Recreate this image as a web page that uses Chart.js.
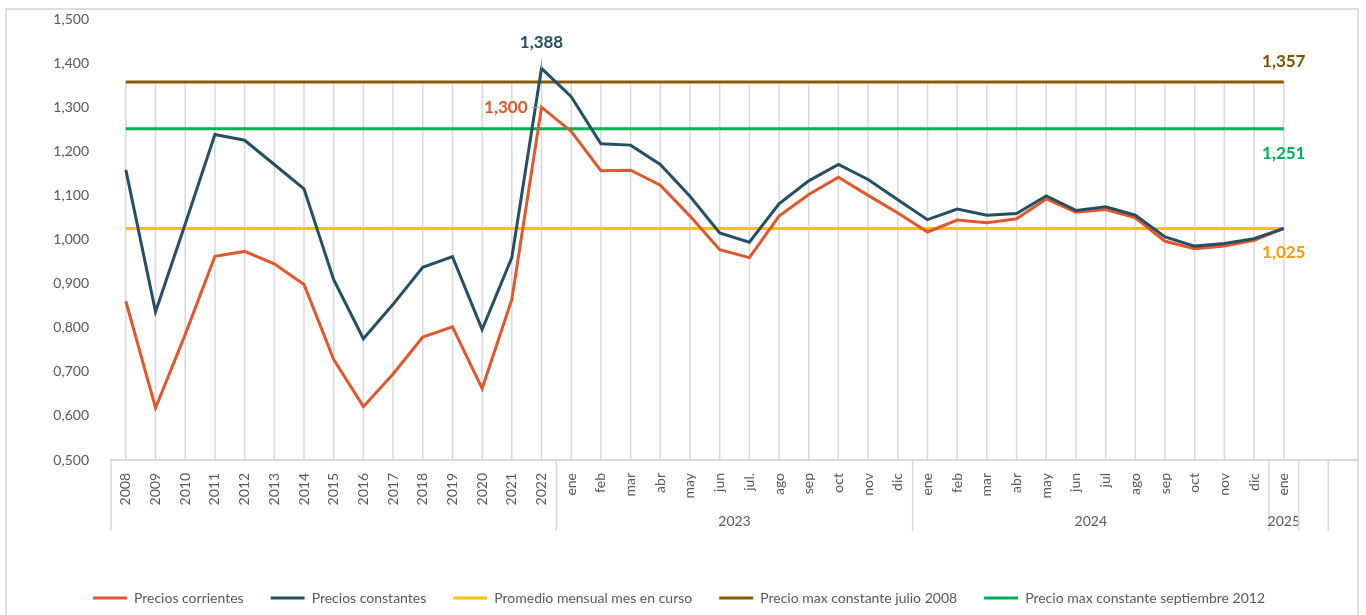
<!DOCTYPE html>
<html lang="es">
<head>
<meta charset="utf-8">
<title>Precios</title>
<script src="https://cdn.jsdelivr.net/npm/chart.js@4.4.1/dist/chart.umd.min.js"></script>
<style>
  html, body { margin: 0; padding: 0; background: #fff; overflow: hidden; }
  body { width: 1366px; height: 615px; position: relative; }
  #marco { position: absolute; left: 5px; top: 8px; width: 1350px; height: 700px; border: 2px solid #dedede; }
  #caja { position: absolute; left: 0; top: 0; width: 1366px; height: 615px; }
</style>
</head>
<body>
<div id="marco"></div>
<div id="caja"><canvas id="grafico"></canvas></div>
<script>
// categorias: años y luego meses (las dos últimas quedan vacías)
const categorias = [
  '2008', '2009', '2010', '2011', '2012', '2013', '2014', '2015', '2016', '2017', '2018', '2019', '2020', '2021', '2022',
  'ene', 'feb', 'mar', 'abr', 'may', 'jun', 'jul.', 'ago', 'sep', 'oct', 'nov', 'dic',
  'ene', 'feb', 'mar', 'abr', 'may', 'jun', 'jul', 'ago', 'sep', 'oct', 'nov', 'dic',
  'ene', '', ''
];
const grupos = ['', '2023', '2024', '2025', '', ''];
const categoriasPorGrupo = [15, 12, 12, 1, 1, 1];

const corrientes = [
  0.860, 0.618, 0.785, 0.962, 0.973, 0.945, 0.898, 0.728, 0.621, 0.695, 0.779, 0.802, 0.662, 0.864, 1.300,
  1.245, 1.156, 1.157, 1.123, 1.053, 0.977, 0.959, 1.053, 1.102, 1.141, 1.100, 1.060,
  1.017, 1.044, 1.038, 1.047, 1.092, 1.062, 1.068, 1.049, 0.996, 0.979, 0.985, 0.998,
  1.025
];
const constantes = [
  1.158, 0.836, 1.035, 1.238, 1.225, 1.170, 1.115, 0.909, 0.775, 0.853, 0.937, 0.961, 0.796, 0.959, 1.388,
  1.324, 1.217, 1.214, 1.170, 1.098, 1.015, 0.994, 1.081, 1.133, 1.170, 1.136, 1.090,
  1.045, 1.069, 1.055, 1.059, 1.099, 1.066, 1.074, 1.055, 1.006, 0.985, 0.991, 1.002,
  1.025
];
const promedioMes = [
  1.025, 1.025, 1.025, 1.025, 1.025, 1.025, 1.025, 1.025, 1.025, 1.025, 1.025, 1.025, 1.025, 1.025, 1.025,
  1.025, 1.025, 1.025, 1.025, 1.025, 1.025, 1.025, 1.025, 1.025, 1.025, 1.025, 1.025,
  1.025, 1.025, 1.025, 1.025, 1.025, 1.025, 1.025, 1.025, 1.025, 1.025, 1.025, 1.025,
  1.025
];
const maxJulio2008 = [
  1.357, 1.357, 1.357, 1.357, 1.357, 1.357, 1.357, 1.357, 1.357, 1.357, 1.357, 1.357, 1.357, 1.357, 1.357,
  1.357, 1.357, 1.357, 1.357, 1.357, 1.357, 1.357, 1.357, 1.357, 1.357, 1.357, 1.357,
  1.357, 1.357, 1.357, 1.357, 1.357, 1.357, 1.357, 1.357, 1.357, 1.357, 1.357, 1.357,
  1.357
];
const maxSept2012 = [
  1.251, 1.251, 1.251, 1.251, 1.251, 1.251, 1.251, 1.251, 1.251, 1.251, 1.251, 1.251, 1.251, 1.251, 1.251,
  1.251, 1.251, 1.251, 1.251, 1.251, 1.251, 1.251, 1.251, 1.251, 1.251, 1.251, 1.251,
  1.251, 1.251, 1.251, 1.251, 1.251, 1.251, 1.251, 1.251, 1.251, 1.251, 1.251, 1.251,
  1.251
];
const yMin = 0.5;
const yMax = 1.5;
const yPaso = 0.1;

const fmt = v => (Math.round(v * 1000) / 1000).toFixed(3).replace('.', ',');

Chart.defaults.font.family = 'Lato';
Chart.defaults.color = '#595959';

// lineas verticales desde el valor mas alto hasta el eje
const lineasGuia = {
  id: 'lineasGuia',
  beforeDatasetsDraw(chart) {
    const { ctx, scales: { x, y } } = chart;
    ctx.save();
    ctx.strokeStyle = '#d9d9d9';
    ctx.lineWidth = 1.5;
    for (let i = 0; i < corrientes.length; i++) {
      const tope = Math.max(corrientes[i], constantes[i], promedioMes[i], maxJulio2008[i], maxSept2012[i]);
      const px = x.getPixelForValue(i);
      ctx.beginPath();
      ctx.moveTo(px, y.getPixelForValue(tope));
      ctx.lineTo(px, y.bottom);
      ctx.stroke();
    }
    ctx.restore();
  }
};

// etiquetas de valores destacados
const etiquetas = {
  id: 'etiquetas',
  afterDatasetsDraw(chart) {
    const { ctx, scales: { x, y } } = chart;
    const iPico = 14;
    const iUlt = corrientes.length - 1;
    ctx.save();
    ctx.font = 'bold 17px Lato';
    ctx.textBaseline = 'middle';

    // 1,388
    let px = x.getPixelForValue(iPico);
    let py = y.getPixelForValue(constantes[iPico]);
    ctx.strokeStyle = '#a6a6a6';
    ctx.lineWidth = 1;
    ctx.beginPath(); ctx.moveTo(px, py); ctx.lineTo(px, py - 9); ctx.stroke();
    ctx.fillStyle = '#264f63';
    ctx.textAlign = 'center';
    ctx.fillText(fmt(constantes[iPico]), px, py - 26);

    // 1,300
    py = y.getPixelForValue(corrientes[iPico]);
    ctx.beginPath(); ctx.moveTo(px, py); ctx.lineTo(px - 10, py); ctx.stroke();
    ctx.fillStyle = '#e2572b';
    ctx.textAlign = 'right';
    ctx.fillText(fmt(corrientes[iPico]), px - 14, py);

    ctx.textAlign = 'center';
    px = x.getPixelForValue(iUlt);
    ctx.fillStyle = '#7f4f00';
    ctx.fillText(fmt(maxJulio2008[iUlt]), px, y.getPixelForValue(maxJulio2008[iUlt]) - 21);
    ctx.fillStyle = '#00b050';
    ctx.fillText(fmt(maxSept2012[iUlt]), px, y.getPixelForValue(maxSept2012[iUlt]) + 25);
    ctx.fillStyle = '#ff9900';
    ctx.fillText(fmt(promedioMes[iUlt]), px, y.getPixelForValue(promedioMes[iUlt]) + 24);
    ctx.restore();
  }
};

// segundo nivel del eje x (años de los meses)
const ejeGrupos = {
  id: 'ejeGrupos',
  afterDraw(chart) {
    const { ctx, scales: { x, y } } = chart;
    const paso = x.getPixelForValue(1) - x.getPixelForValue(0);
    ctx.save();
    ctx.strokeStyle = '#d9d9d9';
    ctx.lineWidth = 1.5;
    ctx.fillStyle = '#595959';
    ctx.font = '14px Lato';
    ctx.textAlign = 'center';
    ctx.textBaseline = 'middle';
    let inicio = 0;
    grupos.forEach((g, k) => {
      const izq = x.getPixelForValue(inicio) - paso / 2;
      const der = izq + categoriasPorGrupo[k] * paso;
      ctx.beginPath(); ctx.moveTo(izq, y.bottom); ctx.lineTo(izq, y.bottom + 71); ctx.stroke();
      if (g) ctx.fillText(g, (izq + der) / 2, y.bottom + 61);
      inicio += categoriasPorGrupo[k];
    });
    ctx.restore();
  }
};

const serie = (label, data, color, order) => ({
  label, data, order,
  borderColor: color,
  backgroundColor: color,
  borderWidth: 3,
  pointRadius: 0,
  tension: 0,
  fill: false
});

new Chart(document.getElementById('grafico'), {
  type: 'line',
  data: {
    labels: categorias,
    datasets: [
      serie('Precios corrientes', corrientes, '#e2572b', 1),
      serie('Precios constantes', constantes, '#264f63', 0),
      serie('Promedio mensual mes en curso', promedioMes, '#ffc000', 2),
      serie('Precio max constante julio 2008', maxJulio2008, '#8b5a00', 2),
      serie('Precio max constante septiembre 2012', maxSept2012, '#00b050', 2)
    ]
  },
  options: {
    responsive: true,
    maintainAspectRatio: false,
    animation: false,
    layout: { padding: { top: 19, right: 8, left: 0, bottom: 0 } },
    plugins: {
      tooltip: { enabled: false },
      legend: {
        position: 'bottom',
        labels: {
          color: '#595959',
          font: { family: 'Lato', size: 14 },
          boxWidth: 34,
          boxHeight: 3,
          padding: 27,
          sort: (a, b) => a.datasetIndex - b.datasetIndex,
          generateLabels(chart) {
            return Chart.defaults.plugins.legend.labels.generateLabels(chart)
              .map(it => ({ ...it, fillStyle: it.strokeStyle, lineWidth: 0 }));
          }
        }
      }
    },
    scales: {
      x: {
        offset: true,
        grid: { display: false },
        border: { display: true, color: '#d9d9d9', width: 2 },
        ticks: {
          autoSkip: false,
          minRotation: 90,
          maxRotation: 90,
          padding: 5,
          color: '#595959',
          font: { size: 14 }
        },
        afterFit(scale) { scale.height = 104; }
      },
      y: {
        min: yMin,
        max: yMax,
        grid: { display: false },
        border: { display: false },
        ticks: {
          stepSize: yPaso,
          padding: 14,
          color: '#595959',
          font: { size: 14 },
          callback: v => fmt(v)
        },
        afterFit(scale) {
          scale.width = 111;
          scale.paddingTop = 0;
          scale.paddingBottom = 0;
        }
      }
    }
  },
  plugins: [lineasGuia, etiquetas, ejeGrupos]
});
</script>
</body>
</html>
